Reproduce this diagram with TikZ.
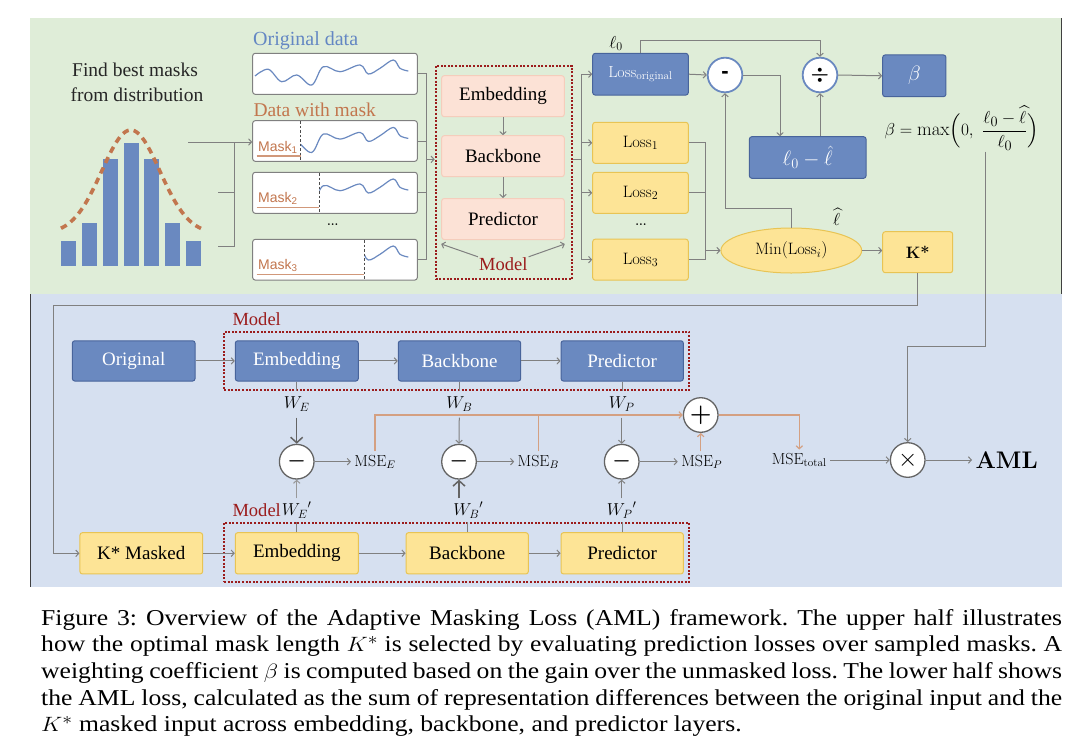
\documentclass[tikz,border=0pt]{standalone}
\usepackage{fontspec}
\usepackage{amsmath,amssymb,bm}
\usepackage{graphicx}
\usetikzlibrary{arrows.meta,shapes.geometric,calc}
\newfontfamily\tnr{Liberation Serif}
\newfontfamily\lsans{Liberation Sans}
\definecolor{gbg}{RGB}{223,237,216}
\definecolor{bbg}{RGB}{214,224,240}
\definecolor{bfill}{RGB}{106,137,192}
\definecolor{bdraw}{RGB}{72,100,155}
\definecolor{yfill}{RGB}{253,228,150}
\definecolor{ydraw}{RGB}{232,196,84}
\definecolor{pfill}{RGB}{252,226,214}
\definecolor{pdraw}{RGB}{245,205,188}
\definecolor{dred}{RGB}{155,28,28}
\definecolor{obrown}{RGB}{194,118,78}
\definecolor{tanl}{RGB}{212,160,130}
\definecolor{lgray}{RGB}{128,128,128}
\definecolor{dgray}{RGB}{100,100,100}
\definecolor{tblue}{RGB}{100,135,195}
\tikzset{
  box/.style={rectangle, rounded corners=2.5pt, line width=1pt, inner sep=0pt, font=\tnr\fontsize{19}{20}\selectfont},
  bbox/.style={box, fill=bfill, draw=bdraw, text=white},
  ybox/.style={box, fill=yfill, draw=ydraw},
  pbox/.style={box, fill=pfill, draw=pdraw},
  databox/.style={rectangle, rounded corners=2.5pt, draw=lgray, line width=1pt, fill=white, inner sep=0pt},
  dotbox/.style={draw=dred, line width=2pt, dash pattern=on 2pt off 1.6pt, inner sep=0pt},
  ln/.style={draw=lgray, line width=1pt},
  arr/.style={draw=lgray, line width=1pt, -{Straight Barb[length=3pt,width=6.5pt]}},
  bigarr/.style={draw=dgray, line width=1.5pt, -{Straight Barb[length=5.5pt,width=12pt]}},
  tln/.style={draw=tanl, line width=1.2pt},
  tarr/.style={draw=tanl, line width=1.2pt, -{Straight Barb[length=3pt,width=6.5pt]}},
  ucirc/.style={circle, minimum size=34.6, inner sep=0pt, fill=white, draw=bfill, line width=1.8pt},
  lcirc/.style={circle, minimum size=34.6, inner sep=0pt, fill=white, draw=dgray, line width=1.3pt},
  lmf/.style={font=\fontsize{16.5}{18}\selectfont},
  wave/.style={draw=bfill, line width=1.2pt},
  maskdash/.style={draw=black!70, line width=0.9pt, dash pattern=on 2.5pt off 2pt},
  maskline/.style={draw=obrown!75, line width=1.3pt},
  masktext/.style={font=\lsans\fontsize{14}{14}\selectfont, text=obrown, anchor=base west, inner sep=0pt},
  redlab/.style={font=\tnr\fontsize{18.5}{20}\selectfont, text=dred},
}
\newcommand\drawwave[1]{\draw[wave, shift={(0,#1)}] plot[smooth,tension=0.6] coordinates {(255,76) (268.3,69.3) (281.7,81.7) (296.7,75) (311.7,85) (323.3,66.7) (340,71.7) (360,65) (368.3,74) (380,68.3) (393.3,60) (400,68.3) (408.3,71)};}
\begin{document}
\begin{tikzpicture}[x=1pt,y=-1pt]
\useasboundingbox (0,0) rectangle (1086,755);
\fill[white] (0,0) rectangle (1086,755);
% panels
\fill[gbg] (30,18) rectangle (1062,294);
\fill[bbg] (30,294) rectangle (1062,587);
\draw[black!75, line width=1.5pt] (1061.5,18) -- (1061.5,294);
\draw[black!75, line width=1.5pt] (30.5,294) -- (30.5,587);

% ---------- upper panel ----------
\node[font=\tnr\fontsize{19.5}{20}\selectfont, text=black!85, anchor=base] (fb1) at (135,76) {Find best masks};
\node[font=\tnr\fontsize{19.5}{20}\selectfont, text=black!85, anchor=base] (fb2) at (137,101) {from distribution};

% histogram
\foreach \xx/\tp in {60.7/240.7, 81.7/223.3, 102.7/159.3, 123.5/142.7, 144.3/159.3, 165.2/223.3, 185.8/240.7}
  \fill[bfill] (\xx,\tp) rectangle ++(15,266-\tp);
\draw[obrown, line width=3.6pt, dash pattern=on 6.5pt off 5pt] plot[domain=61:201, samples=60, smooth] (\x, {234-104*exp(-((\x-130.8)^2)/1682)});

\coordinate (h1) at (188,142);
\coordinate (h2) at (218,192.7);
\coordinate (h3) at (218,246.7);
\coordinate (hj) at (234,142);

% data boxes
\node[font=\tnr\fontsize{20}{20}\selectfont, text=tblue, anchor=base west, inner sep=0pt] (lod) at (253,45.7) {Original data};
\node[font=\tnr\fontsize{19.5}{20}\selectfont, text=obrown, anchor=base west, inner sep=0pt] (ldm) at (253.3,116) {Data with mask};
\node[databox, minimum width=164.6, minimum height=41] (od) at (335,73.8) {};
\node[databox, minimum width=164.6, minimum height=40.6] (m1) at (335,141) {};
\node[databox, minimum width=164.6, minimum height=41] (m2) at (335,192.8) {};
\node[databox, minimum width=164.6, minimum height=40.7] (m3) at (335,259.7) {};
\node[font=\bfseries\fontsize{12}{12}\selectfont] (dd1) at (332.7,225) {...};
\drawwave{0}
\begin{scope}\clip (300.7,121) rectangle (416,161);\drawwave{67.4}\end{scope}
\begin{scope}\clip (319.3,173) rectangle (416,213);\drawwave{119}\end{scope}
\begin{scope}\clip (364.3,240) rectangle (416,280);\drawwave{186}\end{scope}
\draw[maskdash] (300.7,121) -- (300.7,161);
\draw[maskdash] (319.3,173) -- (319.3,213);
\draw[maskdash] (364.3,240) -- (364.3,280);
\draw[maskline] (256.7,156) -- (300.7,156);
\draw[maskline] (256.7,207.3) -- (319.3,207.3);
\draw[maskline] (256.7,274.3) -- (364.3,274.3);
\node[masktext] (mk1) at (258,151.7) {Mask\textsubscript{1}};
\node[masktext] (mk2) at (258,202.7) {Mask\textsubscript{2}};
\node[masktext] (mk3) at (258,269.3) {Mask\textsubscript{3}};

\draw[ln] (h1) -- (hj);
\draw[ln] (h2) -| (hj);
\draw[ln] (h3) -| (hj);
\draw[arr] (hj) -- (hj -| m1.west);

% model (upper)
\node[dotbox, minimum width=136, minimum height=213.6] (um) at (503.7,172.5) {};
\node[pbox, minimum width=122.6, minimum height=41] (uemb) at (503,96.2) {Embedding};
\node[pbox, minimum width=122.6, minimum height=41] (ubb) at (503,156.2) {Backbone};
\node[pbox, minimum width=122.6, minimum height=41] (upred) at (503,219) {Predictor};
\node[redlab, inner sep=1pt] (umlab) at (503.3,264.5) {Model};
\draw[arr] (uemb.south) -- (ubb.north);
\draw[arr] (ubb.south) -- (upred.north);
\draw[arr] (umlab.north west) -- ($(upred.south west)+(0,4)$);
\draw[arr] (umlab.north east) -- ($(upred.south east)+(0,4)$);

\coordinate (dj) at (426.7,159.3);
\draw[ln] (od.east) -| (dj);
\draw[ln] (m1.east) -| (dj);
\draw[ln] (m2.east) -| (dj);
\draw[ln] (m3.east) -| (dj);
\draw[arr] (dj) -- (dj -| um.west);

% losses
\node[bbox, minimum width=95.6, minimum height=41.7, font=\fontsize{16}{18}\selectfont] (lorig) at (640.5,74.2) {$\mathrm{Loss}_{\mathrm{original}}$};
\node[ybox, minimum width=95.6, minimum height=41, lmf] (l1) at (640.5,142.8) {$\mathrm{Loss}_1$};
\node[ybox, minimum width=95.6, minimum height=41, lmf] (l2) at (640.5,192.8) {$\mathrm{Loss}_2$};
\node[ybox, minimum width=95.6, minimum height=41, lmf] (l3) at (640.5,259.7) {$\mathrm{Loss}_3$};
\node[font=\bfseries\fontsize{12}{12}\selectfont] (dd2) at (641,225) {...};
\node[font=\fontsize{18}{18}\selectfont] (l0lab) at (616,43.5) {$\ell_0$};

\coordinate (mj) at (581,159.3);
\draw[ln] (um.east |- mj) -- (mj);
\draw[arr] (mj) |- (lorig.west);
\draw[arr] (mj) |- (l1.west);
\draw[arr] (mj) |- (l2.west);
\draw[arr] (mj) |- (l3.west);

% operators
\node[ucirc, font=\lsans\bfseries\fontsize{22}{22}\selectfont] (c1) at (725,75) {-};
\node[ucirc, font=\fontsize{20}{20}\selectfont] (c2) at (820,75) {$\boldsymbol{\div}$};
\node[bbox, minimum width=63.3, minimum height=41.7, font=\fontsize{21}{22}\selectfont] (beta) at (914.3,75.8) {$\beta$};
\node[bbox, minimum width=116.7, minimum height=41.6, font=\fontsize{21}{22}\selectfont] (diff) at (807.7,157.5) {$\ell_0-\hat{\ell}$};
\node[ellipse, fill=yfill, draw=ydraw, line width=1pt, minimum width=140.7, minimum height=45, inner sep=0pt, lmf] (ell) at (791.3,250.5) {$\mathrm{Min}(\mathrm{Loss}_i)$};
\node[ybox, minimum width=70, minimum height=41, font=\fontsize{16.5}{18}\selectfont\bfseries] (ks) at (917.7,252.2) {K*};
\node[font=\fontsize{17}{18}\selectfont] (lhat) at (836.7,216.7) {$\widehat{\ell}$};
\node[font=\fontsize{19}{20}\selectfont] (form) at (961.7,128.3) {$\beta=\max\Bigl(0,\ \dfrac{\ell_0-\widehat{\ell}}{\ell_0}\Bigr)$};

\coordinate (lj) at (705,250.5);
\draw[ln] (l1.east) -| (lj);
\draw[ln] (l2.east) -| (lj);
\draw[ln] (l3.east) -| (lj);
\draw[arr] (lj) -- (ell.west);

\draw[arr] (lorig.east) -- (c1.west);
\draw[arr] (lorig.north) |- (c2.north |- 0,40) -- (c2.north);
\draw[arr] (c1.east) -| (diff.north -| 780,0);
\draw[arr] (diff.north -| c2.south) -- (c2.south);
\draw[arr] (c2.east) -- (beta.west);
\draw[arr] (ell.north) |- (c1.south |- 0,208.3) -- (c1.south);
\draw[arr] (ell.east) -- (ell.east -| ks.west);

% ---------- lower panel ----------
\node[redlab] (lmlab1) at (256.7,319.3) {Model};
\node[dotbox, minimum width=465.3, minimum height=58.3] (lm1) at (456.65,360.85) {};
\node[bbox, minimum width=122.7, minimum height=40.3] (orig) at (133.7,360.9) {Original};
\node[bbox, minimum width=123, minimum height=40.3] (lemb) at (296.8,360.9) {Embedding};
\node[bbox, minimum width=122.4, minimum height=40.3] (lbb) at (459.5,360.9) {Backbone};
\node[bbox, minimum width=122.3, minimum height=40.3] (lpred) at (622.2,360.9) {Predictor};

\node[redlab] (lmlab2) at (256.7,510) {Model};
\node[dotbox, minimum width=465.3, minimum height=59] (lm2) at (456.65,552.2) {};
\node[ybox, minimum width=122.7, minimum height=41.3] (km) at (141.3,553.3) {K* Masked};
\node[ybox, minimum width=123, minimum height=41.3] (lemb2) at (296.8,553.3) {Embedding};
\node[ybox, minimum width=122.3, minimum height=41.3] (lbb2) at (467.2,553.3) {Backbone};
\node[ybox, minimum width=122.3, minimum height=41.3] (lpred2) at (622.2,553.3) {Predictor};

\draw[arr] (orig.east) -- (lemb.west);
\draw[arr] (lemb.east) -- (lbb.west);
\draw[arr] (lbb.east) -- (lpred.west);
\draw[arr] (km.east) -- (lemb2.west);
\draw[arr] (lemb2.east) -- (lbb2.west);
\draw[arr] (lbb2.east) -- (lpred2.west);

\draw[ln] (lemb.south) -- (lemb.south |- lm1.south);
\draw[ln] (lbb.south) -- (lbb.south |- lm1.south);
\draw[ln] (lpred.south) -- (lpred.south |- lm1.south);
\draw[ln] (lemb2.north) -- (lemb2.north |- lm2.north);
\draw[ln] (lbb2.north) -- (lbb2.north |- lm2.north);
\draw[ln] (lpred2.north) -- (lpred2.north |- lm2.north);

\node[font=\fontsize{16.5}{18}\selectfont] (we) at (296.7,404) {$W_E$};
\node[font=\fontsize{16.5}{18}\selectfont] (wb) at (459.3,404) {$W_B$};
\node[font=\fontsize{16.5}{18}\selectfont] (wp) at (621.7,404) {$W_P$};
\node[font=\fontsize{16.5}{18}\selectfont] (we2) at (296.7,510) {${W_E}'$};
\node[font=\fontsize{16.5}{18}\selectfont] (wb2) at (468.3,510) {${W_B}'$};
\node[font=\fontsize{16.5}{18}\selectfont] (wp2) at (621.7,510) {${W_P}'$};

\node[lcirc, font=\fontsize{22}{22}\selectfont] (ce) at (296.7,461.7) {$\boldsymbol{-}$};
\node[lcirc, font=\fontsize{22}{22}\selectfont] (cb) at (459,461.7) {$\boldsymbol{-}$};
\node[lcirc, font=\fontsize{22}{22}\selectfont] (cp) at (621.7,461.7) {$\boldsymbol{-}$};
\node[lcirc, font=\fontsize{24}{24}\selectfont] (plus) at (700.7,415) {$\boldsymbol{+}$};
\node[lcirc, font=\fontsize{26}{26}\selectfont] (times) at (907.7,460) {$\times$};

\node[font=\fontsize{16}{18}\selectfont] (msee) at (375,461.7) {$\mathrm{MSE}_E$};
\node[font=\fontsize{16}{18}\selectfont] (mseb) at (538.3,461.7) {$\mathrm{MSE}_B$};
\node[font=\fontsize{16}{18}\selectfont] (msep) at (701.7,461.7) {$\mathrm{MSE}_P$};
\node[font=\fontsize{16}{18}\selectfont] (mset) at (799.3,460) {$\mathrm{MSE}_{\mathrm{total}}$};
\node[font=\fontsize{24}{26}\selectfont\bfseries] (aml) at (1006.7,460) {AML};

\draw[bigarr, shorten <=3pt] (we.south) -- (ce.north);
\draw[arr, shorten <=3pt] (wb.south) -- (cb.north);
\draw[arr, shorten <=3pt] (wp.south) -- (cp.north);
\draw[arr, draw=lgray!80] (ce.south |- we2.north) -- (ce.south);
\draw[bigarr] (cb.south |- wb2.north) -- (cb.south);
\draw[arr] (cp.south |- wp2.north) -- (cp.south);

\draw[arr] (ce.east) -- (msee.west);
\draw[arr] (cb.east) -- (mseb.west);
\draw[arr] (cp.east) -- (msep.west);

\draw[tarr] (msee.north) |- (plus.west);
\draw[tln] (mseb.north) -- (mseb.north |- plus.west);
\draw[tarr] (plus.south |- msep.north) -- (plus.south);
\draw[tarr] (plus.east) -| (mset.north);

\draw[arr] (mset.east) -- (times.west);
\draw[arr] (times.east) -- (aml.west);

% cross-panel connectors
\draw[arr] (ks.south) |- (53.3,305) |- (km.west);
\coordinate (fs) at (985,151.7);
\draw[arr] (fs) |- (times.north |- 0,346.7) -- (times.north);

% caption
\node[anchor=base west, inner sep=0pt] (cap) at (41,625) {\scalebox{1.13}[1]{\parbox[t]{903.5pt}{\tnr\fontsize{22.7}{26.7}\selectfont\frenchspacing\spaceskip=0.25em plus 0.3em minus 0.12em\noindent
Figure 3: Overview of the Adaptive Masking Loss (AML) framework. The upper half illustrates\linebreak
how the optimal mask length $K^*$ is selected by evaluating prediction losses over sampled masks. A\linebreak
weighting coefficient $\beta$ is computed based on the gain over the unmasked loss. The lower half shows\linebreak
the AML loss, calculated as the sum of representation differences between the original input and the\linebreak
$K^*$ masked input across embedding, backbone, and predictor layers.}}};
\end{tikzpicture}
\end{document}
